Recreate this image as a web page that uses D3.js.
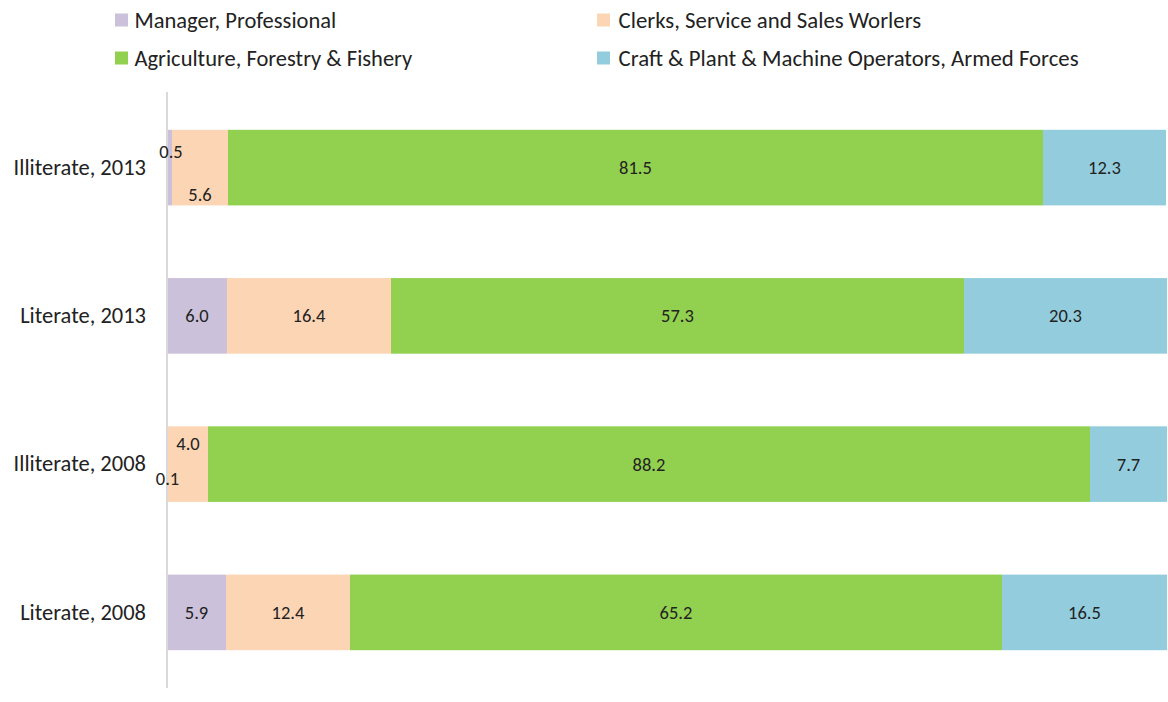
<!DOCTYPE html>
<html><head><meta charset="utf-8">
<script src="https://cdn.jsdelivr.net/npm/d3@7/dist/d3.min.js"></script>
<style>body{margin:0;background:#fff;overflow:hidden}svg{display:block}</style>
</head><body>
<svg id="chart" width="1168" height="702"></svg>
<script>
const categories = ["Illiterate, 2013", "Literate, 2013", "Illiterate, 2008", "Literate, 2008"];
const seriesNames = ["Manager, Professional", "Clerks, Service and Sales Worlers", "Agriculture, Forestry & Fishery", "Craft & Plant & Machine Operators, Armed Forces"];
const manager = [0.5, 6.0, 0.1, 5.9];
const clerks = [5.6, 16.4, 4.0, 12.4];
const agriculture = [81.5, 57.3, 88.2, 65.2];
const craft = [12.3, 20.3, 7.7, 16.5];
const colors = ["#CCC1DA", "#FCD5B5", "#92D050", "#93CDDD"];

const seriesValues = [manager, clerks, agriculture, craft];
const rows = categories.map((c, i) => {
  const o = {cat: c};
  seriesNames.forEach((s, j) => o[s] = seriesValues[j][i]);
  return o;
});
const stacked = d3.stack().keys(seriesNames)(rows);

const svg = d3.select("#chart");
const font = "Carlito, Calibri, Lato, 'Open Sans', sans-serif";
const textColor = "#222";
const x = d3.scaleLinear().domain([0, 100]).range([167, 1167]);
const y = d3.scaleBand().domain(categories).range([92, 688]).paddingInner(0.49).paddingOuter(0.255);

// bars
const g = svg.append("g");
stacked.forEach((layer, j) => {
  g.selectAll(null).data(layer).enter().append("rect")
    .attr("x", d => x(d[0]))
    .attr("y", d => y(d.data.cat))
    .attr("width", d => x(d[1]) - x(d[0]))
    .attr("height", y.bandwidth())
    .attr("fill", colors[j]);
});

// axis line
svg.append("line").attr("x1", 167).attr("x2", 167).attr("y1", 92).attr("y2", 688)
  .attr("stroke", "#D9D9D9").attr("stroke-width", 2);

// category labels
const yAxis = svg.append("g").attr("transform", "translate(167,0)")
  .call(d3.axisLeft(y).tickSize(0).tickPadding(21));
yAxis.select(".domain").remove();
yAxis.selectAll("text").attr("font-family", font).attr("font-size", 22.5).attr("fill", textColor);

// value labels; small segments get shifted vertically to avoid overlap
const smallShift = {"0-0": -16, "1-0": 27, "0-2": 14, "1-2": -21};
stacked.forEach((layer, j) => {
  svg.selectAll(null).data(layer).enter().append("text")
    .attr("x", (d, i) => (x(d[0]) + x(d[1])) / 2 + (j === 0 && i === 0 ? 1.5 : 0))
    .attr("y", (d, i) => y(d.data.cat) + y.bandwidth() / 2 + (smallShift[j + "-" + i] || 0))
    .attr("dy", "0.35em")
    .attr("text-anchor", "middle")
    .attr("font-family", font).attr("font-size", 18.5).attr("fill", textColor)
    .text(d => (d[1] - d[0]).toFixed(1));
});

// legend
const legPos = [[115, 20, 19.5], [597, 20, 21.5], [115, 58, 19.5], [597, 58, 21.5]];
const legSize = [22.5, 22.8, 22.5, 22.8];
const leg = svg.append("g");
seriesNames.forEach((s, j) => {
  const [lx, ly, off] = legPos[j];
  leg.append("rect").attr("x", lx).attr("y", ly - 6.5).attr("width", 13).attr("height", 13).attr("fill", colors[j]);
  leg.append("text").attr("x", lx + off).attr("y", ly).attr("dy", "0.35em")
    .attr("font-family", font).attr("font-size", legSize[j]).attr("fill", textColor).text(s);
});
</script>
</body></html>
